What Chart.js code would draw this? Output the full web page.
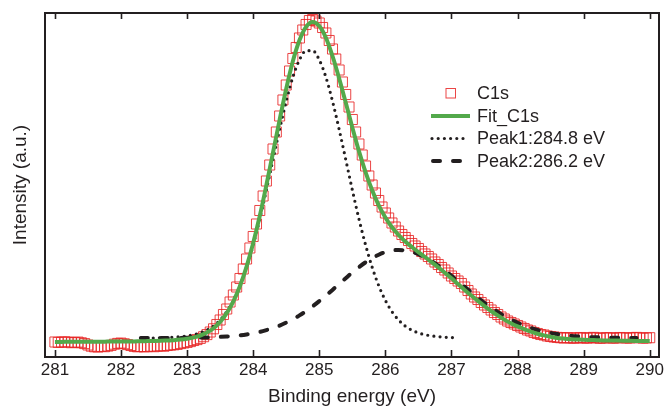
<!DOCTYPE html>
<html><head><meta charset="utf-8">
<script src="https://cdn.jsdelivr.net/npm/chart.js@4.4.1/dist/chart.umd.min.js"></script>
<style>html,body{margin:0;padding:0;background:#fff}#wrap{width:668px;height:409px}</style>
</head><body><div id="wrap"><canvas id="c" width="668" height="409"></canvas></div>
<script>
const xTickValues = [281, 282, 283, 284, 285, 286, 287, 288, 289, 290];
const seriesLabels = ['C1s', 'Fit_C1s', 'Peak1:284.8 eV', 'Peak2:286.2 eV'];
const xTitle = 'Binding energy (eV)';
const yTitle = 'Intensity (a.u.)';

const c1sEnergy = [
281.00,281.05,281.10,281.15,281.20,281.25,281.30,281.35,281.40,281.45,281.50,281.55,281.60,281.65,281.70,281.75,281.80,281.85,281.90,281.95,
282.00,282.05,282.10,282.15,282.20,282.25,282.30,282.35,282.40,282.45,282.50,282.55,282.60,282.65,282.70,282.75,282.80,282.85,282.90,282.95,
283.00,283.05,283.10,283.15,283.20,283.25,283.30,283.35,283.40,283.45,283.50,283.55,283.60,283.65,283.70,283.75,283.80,283.85,283.90,283.95,
284.00,284.05,284.10,284.15,284.20,284.25,284.30,284.35,284.40,284.45,284.50,284.55,284.60,284.65,284.70,284.75,284.80,284.85,284.90,284.95,
285.00,285.05,285.10,285.15,285.20,285.25,285.30,285.35,285.40,285.45,285.50,285.55,285.60,285.65,285.70,285.75,285.80,285.85,285.90,285.95,
286.00,286.05,286.10,286.15,286.20,286.25,286.30,286.35,286.40,286.45,286.50,286.55,286.60,286.65,286.70,286.75,286.80,286.85,286.90,286.95,
287.00,287.05,287.10,287.15,287.20,287.25,287.30,287.35,287.40,287.45,287.50,287.55,287.60,287.65,287.70,287.75,287.80,287.85,287.90,287.95,
288.00,288.05,288.10,288.15,288.20,288.25,288.30,288.35,288.40,288.45,288.50,288.55,288.60,288.65,288.70,288.75,288.80,288.85,288.90,288.95,
289.00,289.05,289.10,289.15,289.20,289.25,289.30,289.35,289.40,289.45,289.50,289.55,289.60,289.65,289.70,289.75,289.80,289.85,289.90,289.95,
290.00];
const c1sIntensity = [
15.0,14.6,14.8,15.2,14.9,14.3,14.6,14.9,14.2,13.4,12.0,10.8,10.2,10.0,10.6,10.3,10.9,11.6,12.8,13.6,
13.9,13.2,12.4,11.5,10.6,10.2,10.5,10.1,10.4,10.8,10.3,10.9,11.2,10.8,11.5,11.9,12.2,12.6,13.4,14.0,
14.6,15.4,16.5,17.4,18.6,20.3,22.4,25.0,28.2,32.5,37.0,42.5,48.0,55.0,62.0,70.0,78.5,88.0,98.0,109.0,
120.5,133.0,146.5,161.0,176.0,192.0,208.0,225.0,241.0,257.0,272.0,286.0,298.5,309.5,319.0,327.0,332.5,336.5,337.5,336.0,
334.0,329.5,324.0,316.5,308.0,298.0,287.0,275.0,262.5,250.0,237.5,225.0,213.0,202.0,191.0,181.0,172.0,164.0,156.5,150.0,
144.0,139.0,134.0,130.0,126.0,122.5,119.5,116.5,113.5,111.0,108.5,105.5,103.0,100.5,98.0,95.0,92.5,89.5,87.0,84.0,
81.0,78.5,76.0,73.5,70.0,66.5,63.0,60.0,57.5,54.5,52.0,49.5,47.0,44.5,42.5,40.0,38.0,36.0,34.5,33.0,
31.5,30.0,28.5,27.0,26.0,24.5,23.5,22.5,22.0,21.0,20.5,20.0,19.6,19.3,19.0,19.4,19.1,18.7,19.2,19.5,
19.0,18.8,19.3,19.6,19.1,18.7,19.0,19.4,19.2,18.8,19.1,19.5,19.3,18.9,19.0,19.4,19.6,19.2,18.9,19.1,
19.3];

const fitEnergy = [
281.0,281.1,281.2,281.3,281.4,281.5,281.6,281.7,281.8,281.9,
282.0,282.1,282.2,282.3,282.4,282.5,282.6,282.7,282.8,282.9,
283.0,283.1,283.2,283.3,283.4,283.5,283.6,283.7,283.8,283.9,
284.0,284.1,284.2,284.3,284.4,284.5,284.6,284.7,284.8,284.9,
285.0,285.1,285.2,285.3,285.4,285.5,285.6,285.7,285.8,285.9,
286.0,286.1,286.2,286.3,286.4,286.5,286.6,286.7,286.8,286.9,
287.0,287.1,287.2,287.3,287.4,287.5,287.6,287.7,287.8,287.9,
288.0,288.1,288.2,288.3,288.4,288.5,288.6,288.7,288.8,288.9,
289.0,289.1,289.2,289.3,289.4,289.5,289.6,289.7,289.8,289.9,290.0];
const fitIntensity = [
15.1,15.1,15.2,15.2,15.2,15.2,15.3,15.3,15.4,15.4,
15.5,15.5,15.6,15.8,15.9,16.0,16.2,16.5,16.8,17.4,
18.3,19.6,21.5,24.4,28.8,35.1,43.8,55.6,71.0,90.4,
113.9,141.2,172.0,204.5,237.2,268.3,295.7,316.7,330.2,335.0,
331.0,319.3,301.0,278.8,254.4,229.6,205.9,184.9,166.7,151.6,
139.5,129.8,122.0,115.5,110.0,104.9,100.0,94.9,89.7,84.3,
78.7,72.9,67.1,61.5,56.1,50.9,46.0,41.6,37.4,33.8,
30.6,27.8,25.3,23.3,21.6,20.2,19.1,18.4,17.8,17.5,
17.2,17.0,16.8,16.6,16.5,16.4,16.3,16.2,16.1,16.0,16.0];

const peak1Energy = [
282.3,282.4,282.5,282.6,282.7,282.8,282.9,
283.0,283.1,283.2,283.3,283.4,283.5,283.6,283.7,283.8,283.9,
284.0,284.1,284.2,284.3,284.4,284.5,284.6,284.7,284.8,284.9,
285.0,285.1,285.2,285.3,285.4,285.5,285.6,285.7,285.8,285.9,
286.0,286.1,286.2,286.3,286.4,286.5,286.6,286.7,286.8,286.9,
287.0,287.1];
const peak1Intensity = [
18.8,18.9,19.0,19.2,19.5,19.8,20.3,
21.1,22.3,24.1,26.9,31.0,37.0,45.3,56.6,71.3,89.8,
112.2,138.1,167.1,197.6,227.8,255.9,279.9,297.1,306.3,306.3,
297.1,279.9,255.9,227.8,197.6,167.1,138.1,112.2,89.8,71.3,
56.6,45.3,37.0,31.0,26.9,24.1,22.3,21.1,20.3,19.8,
19.5,19.2];

const peak2Energy = [
282.3,282.4,282.5,282.6,282.7,282.8,282.9,
283.0,283.1,283.2,283.3,283.4,283.5,283.6,283.7,283.8,283.9,
284.0,284.1,284.2,284.3,284.4,284.5,284.6,284.7,284.8,284.9,
285.0,285.1,285.2,285.3,285.4,285.5,285.6,285.7,285.8,285.9,
286.0,286.1,286.2,286.3,286.4,286.5,286.6,286.7,286.8,286.9,
287.0,287.1,287.2,287.3,287.4,287.5,287.6,287.7,287.8,287.9,
288.0,288.1,288.2,288.3,288.4,288.5,288.6,288.7,288.8,288.9,
289.0,289.1,289.2,289.3,289.4,289.5,289.6,289.7,289.8];
const peak2Intensity = [
19.0,19.0,19.0,19.0,19.1,19.1,19.1,
19.2,19.3,19.4,19.5,19.8,20.1,20.5,21.0,21.7,22.6,
23.7,25.1,26.9,28.9,31.4,34.4,37.8,41.6,45.9,50.7,
55.9,61.4,67.1,73.0,78.8,84.5,89.8,94.7,98.9,102.3,
104.9,106.5,107.0,106.5,105.1,102.8,99.7,95.8,91.4,86.5,
81.2,75.7,70.1,64.6,59.3,54.2,49.4,45.0,40.9,37.3,
34.2,31.4,29.0,27.0,25.4,24.0,22.9,22.0,21.2,20.7,
20.2,19.9,19.7,19.5,19.3,19.2,19.2,19.1,19.1];

const FONT = "'Liberation Sans', Arial, Helvetica, sans-serif";
const INK = '#231f20';
const RED = 'rgba(232,36,36,0.85)';
const GREEN = '#53a94b';

const pts = (xs, ys) => xs.map((x, i) => ({x: x, y: ys[i]}));

const datasets = [
  {label: seriesLabels[0], data: pts(c1sEnergy, c1sIntensity), showLine: false,
   pointStyle: 'rect', pointRadius: 7.1, pointBorderWidth: 1, pointBorderColor: RED,
   pointBackgroundColor: 'rgba(0,0,0,0)', borderColor: RED, backgroundColor: 'rgba(0,0,0,0)', order: 4},
  {label: seriesLabels[1], data: pts(fitEnergy, fitIntensity), borderColor: GREEN, borderWidth: 4,
   pointRadius: 0, cubicInterpolationMode: 'monotone', fill: false, order: 1},
  {label: seriesLabels[2], data: pts(peak1Energy, peak1Intensity), borderColor: INK, borderWidth: 3.2,
   borderDash: [0, 6.2], borderCapStyle: 'round', pointRadius: 0, cubicInterpolationMode: 'monotone', fill: false, order: 2},
  {label: seriesLabels[3], data: pts(peak2Energy, peak2Intensity), borderColor: INK, borderWidth: 4,
   borderDash: [7, 13], borderCapStyle: 'round', pointRadius: 0, cubicInterpolationMode: 'monotone', fill: false, order: 3}
];

const framePlugin = {
  id: 'frame',
  afterDatasetsDraw(chart) {
    const {ctx, chartArea: a, scales: {x}} = chart;
    ctx.save();
    ctx.strokeStyle = INK;
    ctx.lineWidth = 1.6;
    x.ticks.forEach(t => {
      const px = Math.round(x.getPixelForValue(t.value)) + 0.5;
      ctx.beginPath();
      ctx.moveTo(px, a.bottom); ctx.lineTo(px, a.bottom - 7);
      ctx.moveTo(px, a.top); ctx.lineTo(px, a.top + 6);
      ctx.stroke();
    });
    ctx.lineWidth = 2;
    ctx.strokeRect(a.left, a.top, a.right - a.left, a.bottom - a.top);
    ctx.restore();
  }
};

const legendPlugin = {
  id: 'customLegend',
  afterDraw(chart) {
    const {ctx} = chart;
    const x0 = 432, x1 = 469, tx = 477;
    const rows = [93, 116, 138.5, 161];
    ctx.save();
    ctx.font = '18px ' + FONT;
    ctx.fillStyle = INK;
    ctx.textBaseline = 'middle';
    chart.data.datasets.forEach((ds, i) => {
      const y = rows[i];
      ctx.save();
      if (i === 0) {
        ctx.strokeStyle = RED; ctx.lineWidth = 1;
        ctx.strokeRect(446, y - 4.5, 9.5, 9.5);
      } else {
        ctx.strokeStyle = ds.borderColor;
        ctx.lineWidth = ds.borderWidth;
        ctx.lineCap = ds.borderCapStyle || 'butt';
        ctx.setLineDash(ds.borderDash || []);
        ctx.beginPath();
        ctx.moveTo(i === 1 ? 431 : (i === 3 ? 433 : x0), y);
        ctx.lineTo(i === 1 ? 470 : x1, y);
        ctx.stroke();
      }
      ctx.restore();
      ctx.fillText(ds.label, tx, y + 1);
    });
    ctx.restore();
  }
};

new Chart(document.getElementById('c'), {
  type: 'line',
  data: {datasets: datasets},
  options: {
    responsive: false,
    animation: false,
    devicePixelRatio: 1,
    layout: {padding: {top: 13, right: 9, left: 0, bottom: 0}},
    plugins: {legend: {display: false}, tooltip: {enabled: false}},
    scales: {
      x: {
        type: 'linear', min: 280.85, max: 290.14,
        afterBuildTicks: s => { s.ticks = xTickValues.map(v => ({value: v})); },
        afterFit: s => { s.height = 52; },
        grid: {display: false, drawTicks: false},
        border: {display: false},
        ticks: {font: {family: FONT, size: 17}, color: INK, padding: 3, maxRotation: 0, autoSkip: false,
                callback: v => String(v)},
        title: {display: true, text: xTitle, font: {family: FONT, size: 19}, color: INK, padding: {top: 0, bottom: 1}}
      },
      y: {
        type: 'linear', min: 0, max: 344,
        afterFit: s => { s.width = 45; },
        grid: {display: false, drawTicks: false},
        border: {display: false},
        ticks: {display: false},
        title: {display: true, text: yTitle, font: {family: FONT, size: 19}, color: INK, padding: {top: 9, bottom: 0}}
      }
    }
  },
  plugins: [framePlugin, legendPlugin]
});
</script>
</body></html>
